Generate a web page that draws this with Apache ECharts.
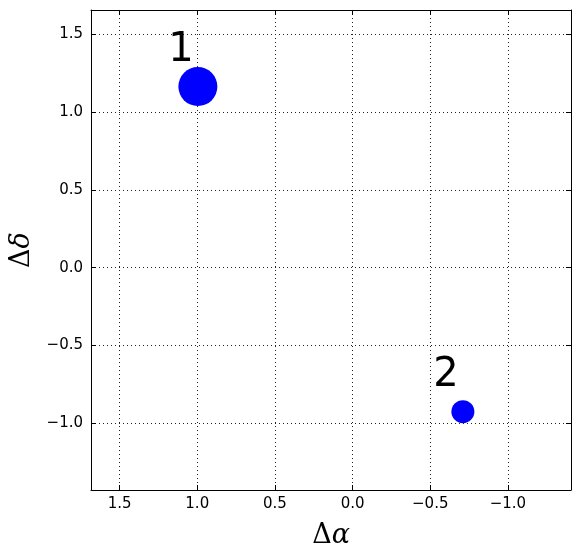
<!DOCTYPE html>
<html>
<head>
<meta charset="utf-8">
<script src="https://cdn.jsdelivr.net/npm/echarts@6/dist/echarts.min.js"></script>
<style>html,body{margin:0;padding:0;background:#fff}#chart{width:580px;height:558px}</style>
</head>
<body>
<div id="chart"></div>
<script>
// ---- data ----
const pointNames = ['1', '2'];
const dAlpha = [0.996, -0.71];
const dDelta = [1.165, -0.927];
const xRange = [-1.406, 1.684];
const yRange = [-1.431, 1.658];

// ---- styles ----
const markerSizes = [39, 23];
const FONT = 'DejaVu Sans';
const isNice = v => Math.abs(v * 2 - Math.round(v * 2)) < 1e-6;
const fmt = v => isNice(v) ? (v < 0 ? '\u2212' : '') + Math.abs(v).toFixed(1) : '';

const common = {
  type: 'value',
  minInterval: 0.5,
  maxInterval: 0.5,
  axisLine: { show: true, onZero: false, lineStyle: { color: '#000', width: 1 } },
  axisTick: { show: true, inside: true, length: 5, lineStyle: { color: '#000', width: 1 } },
};
const nameRich = {
  a: { fontFamily: 'DejaVu Serif', fontSize: 27, color: '#000' },
  b: { fontFamily: 'DejaVu Serif', fontStyle: 'italic', fontSize: 27, color: '#000' }
};

const chart = echarts.init(document.getElementById('chart'), null, { renderer: 'canvas' });
chart.setOption({
  animation: false,
  backgroundColor: '#fff',
  grid: { left: 91, top: 10, width: 480, height: 480, containLabel: false },
  xAxis: [
    Object.assign({}, common, {
      position: 'bottom', inverse: true, min: xRange[0], max: xRange[1],
      name: '{a|\u0394}{b|\u03b1}', nameLocation: 'middle', nameGap: 32,
      nameTextStyle: { rich: nameRich },
      axisLabel: { formatter: fmt, color: '#000', fontFamily: FONT, fontSize: 15, margin: 7 },
      splitLine: { show: true, lineStyle: { color: '#222', width: 1, type: [1, 3] } },
    }),
    Object.assign({}, common, {
      position: 'top', inverse: true, min: xRange[0], max: xRange[1],
      axisLabel: { show: false }, splitLine: { show: false },
    }),
  ],
  yAxis: [
    Object.assign({}, common, {
      position: 'left', min: yRange[0], max: yRange[1],
      name: '{a|\u0394}{b|\u03b4}', nameLocation: 'middle', nameGap: 55, nameRotate: 90,
      nameTextStyle: { rich: nameRich },
      axisLabel: { formatter: fmt, color: '#000', fontFamily: FONT, fontSize: 15, margin: 8 },
      splitLine: { show: true, lineStyle: { color: '#222', width: 1, type: [1, 3] } },
    }),
    Object.assign({}, common, {
      position: 'right', min: yRange[0], max: yRange[1],
      axisLabel: { show: false }, splitLine: { show: false },
    }),
  ],
  series: [{
    type: 'scatter',
    xAxisIndex: 0, yAxisIndex: 0,
    data: dAlpha.map((x, i) => [x, dDelta[i]]),
    symbol: 'circle',
    symbolSize: (val, p) => markerSizes[p.dataIndex],
    itemStyle: { color: '#0000ff', opacity: 1 },
    label: {
      show: true, position: 'inside', offset: [-17, -36],
      formatter: p => pointNames[p.dataIndex],
      fontFamily: FONT, fontSize: 40, color: '#000'
    },
    clip: false,
  }],
});
</script>
</body>
</html>
